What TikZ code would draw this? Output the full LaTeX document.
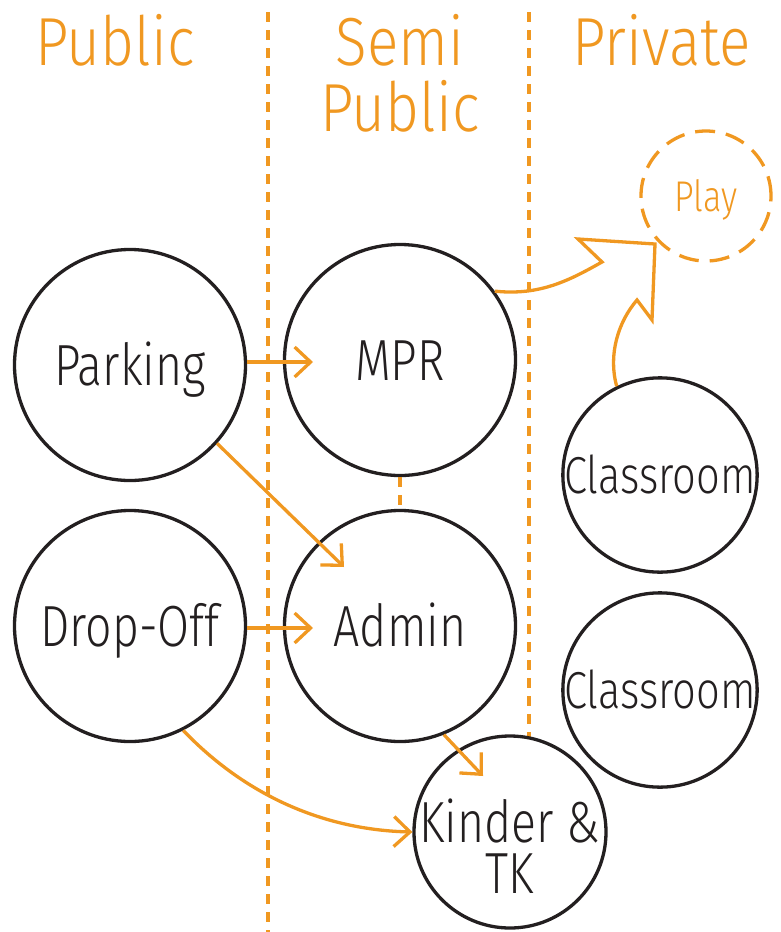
\documentclass[tikz,border=0pt]{standalone}
\usepackage{fontspec}
\usetikzlibrary{arrows.meta}
\IfFontExistsTF{FiraSans-Light.otf}{%
  \newfontfamily\nodefnt{FiraSans-Light.otf}[FakeStretch=0.8]%
  \newfontfamily\hdrfnt{FiraSans-Light.otf}[FakeStretch=0.86]%
}{%
  \IfFontExistsTF{Fira Sans Light}{%
    \newfontfamily\nodefnt{Fira Sans Light}[FakeStretch=0.8]%
    \newfontfamily\hdrfnt{Fira Sans Light}[FakeStretch=0.86]%
  }{%
    \newfontfamily\nodefnt{Fira Sans}[FakeStretch=0.8]%
    \newfontfamily\hdrfnt{Fira Sans}[FakeStretch=0.86]%
  }%
}
\definecolor{ink}{RGB}{35,31,32}
\definecolor{orng}{RGB}{240,152,33}
\tikzset{
  bub/.style={circle, draw=ink, line width=3.3pt, minimum size=#1, inner sep=0pt,
    text=ink, font=\nodefnt\fontsize{58}{52}\selectfont, text height=41pt, text depth=0pt},
  lbl/.style={text=ink, font=\nodefnt\fontsize{58}{51}\selectfont, align=center, inner sep=0pt},
  hdr/.style={text=orng, font=\hdrfnt\fontsize{68}{68}\selectfont, anchor=base, inner sep=0pt},
  flow/.style={draw=orng, line width=3.3pt, -{Straight Barb[length=16pt,width=30pt]}},
  oline/.style={draw=orng, line width=3.3pt, line join=miter},
  zone/.style={draw=orng, line width=3.3pt, dash pattern=on 10pt off 8pt},
}
\begin{document}
\begin{tikzpicture}[x=1pt,y=-1pt]
\useasboundingbox (0,0) rectangle (780,932);
% zone dividers
\coordinate (z1t) at (268,12);
\coordinate (z1b) at (268,932);
\coordinate (z2t) at (529,12);
\coordinate (z2b) at (529,737);
\draw[zone] (z1t) -- (z1b);
\draw[zone] (z2t) -- (z2b);
% headers
\node[hdr] (hpub) at (115,65) {Public};
\node[hdr] (hsemi) at (400,65) {Semi};
\node[hdr] (hsemipub) at (400,131) {Public};
\node[hdr] (hpriv) at (662,65) {Private};
% bubbles
\node[bub=231pt] (parking) at (130,365) {Parking};
\node[bub=231pt] (mpr) at (400,360) {MPR};
\node[bub=231pt] (dropoff) at (130,626) {Drop-Off};
\node[bub=231pt] (admin) at (400,626) {Admin};
\node[circle, draw=ink, line width=3.3pt, minimum size=192pt, inner sep=0pt] (kinder) at (510,832) {};
\node[lbl, anchor=base] (kindertxt) at (510,893) {Kinder \&\\TK};
\node[bub=191pt, font=\nodefnt\fontsize{52}{52}\selectfont, text height=37pt] (class1) at (660,475) {Classroom};
\node[bub=191pt, font=\nodefnt\fontsize{52}{52}\selectfont, text height=37pt] (class2) at (660,690) {Classroom};
\node[circle, draw=orng, line width=3.3pt, dash pattern=on 20pt off 11pt, minimum size=130pt,
  inner sep=0pt, text=orng, font=\nodefnt\fontsize{43}{43}\selectfont, text height=30pt, text depth=0pt] (play) at (706,196) {Play};
% short divider between MPR and Admin
\draw[zone] (mpr.south) -- (admin.north);
% flows
\coordinate (a1) at (313,362);
\coordinate (a2) at (344,567);
\coordinate (a3) at (313,628);
\coordinate (a4) at (483,776);
\draw[flow] (parking.east |- a1) -- (a1);
\draw[flow] (parking.-42) -- (a2);
\draw[flow] (dropoff.east |- a3) -- (a3);
\draw[flow] (admin.-68) -- (a4);
\draw[flow] (dropoff.-63) .. controls (250,800) and (330,830) .. (kinder.west);
% combined arrows into Play
\coordinate (b1) at (602,262);
\coordinate (b2) at (578,239);
\coordinate (tip) at (655,244);
\coordinate (b3) at (652,320);
\coordinate (b4) at (637,300);
\draw[oline] (mpr.36) .. controls (540,296) and (570,280) .. (b1) -- (b2) -- (tip) -- (b3) -- (b4)
  .. controls (618,322) and (608,355) .. (class1.116);
\end{tikzpicture}
\end{document}
